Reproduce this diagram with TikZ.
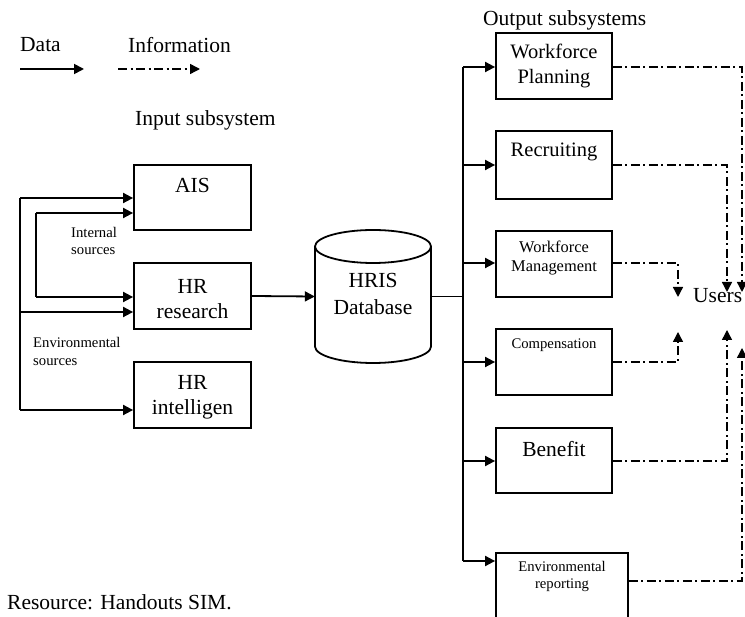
\documentclass[tikz,border=0pt]{standalone}
\usepackage{fontspec}
\setmainfont{Liberation Serif}
\usetikzlibrary{arrows.meta}
\begin{document}
\begin{tikzpicture}[x=1pt,y=-1pt,
  ln/.style={line width=1.8pt},
  arr/.style={ln,-{Triangle[length=10pt,width=10pt]}},
  info/.style={line width=1.4pt,dash pattern=on 9pt off 3.5pt on 2pt off 3.5pt,-{Triangle[length=10pt,width=10pt]}},
  box/.style={draw,ln,inner sep=0pt},
  bigtxt/.style={font=\fontsize{21.5}{24.5}\selectfont,inner sep=0pt,align=center},
  midtxt/.style={font=\fontsize{16.4}{19}\selectfont,inner sep=0pt,align=center},
  smalltxt/.style={font=\fontsize{14.7}{17.5}\selectfont,inner sep=0pt,align=left},
  smallc/.style={font=\fontsize{14.7}{17}\selectfont,inner sep=0pt,align=center}]
\clip (0,0) rectangle (745,617);
\useasboundingbox (0,0) rectangle (745,617);
% legend
\node[bigtxt,anchor=west] (tdata) at (20,45) {Data};
\node[bigtxt,anchor=west] (tinfo) at (128,45) {Information};
\coordinate (d1) at (20,69); \coordinate (d2) at (84,69);
\coordinate (i1) at (118,69); \coordinate (i2) at (200,69);
\draw[arr] (d1) -- (d2);
\draw[info] (i1) -- (i2);
\node[bigtxt,anchor=west] (tin) at (135,120) {Input subsystem};
\node[bigtxt,anchor=west] (tout) at (483,20) {Output subsystems};
\node[bigtxt,anchor=west] (tres) at (7,602) {Resource: Handouts SIM.};
% input boxes
\node[box,minimum width=117pt,minimum height=65pt] (ais) at (192.5,197.5) {};
\node[bigtxt] (taiss) at (192.5,185) {AIS};
\node[box,minimum width=117pt,minimum height=66pt] (hrr) at (192.5,296) {};
\node[bigtxt] (thrr) at (192.5,299) {HR\\research};
\node[box,minimum width=117pt,minimum height=66pt] (hri) at (192.5,395) {};
\node[bigtxt] (thri) at (192.5,397.5) {HR\\intelligen};
% sources
\coordinate (et) at (20,198); \coordinate (em) at (20,312); \coordinate (eb) at (20,410);
\coordinate (it) at (36,213); \coordinate (ib) at (36,297);
\draw[ln] (et) -- (eb);
\draw[arr] (et) -- (et -| ais.west);
\draw[arr] (em) -- (em -| hrr.west);
\draw[arr] (eb) -- (eb -| hri.west);
\draw[ln] (it) -- (ib);
\draw[arr] (it) -- (it -| ais.west);
\draw[arr] (ib) -- (ib -| hrr.west);
\node[smalltxt,anchor=west] (tint) at (71,241) {Internal\\sources};
\node[smalltxt,anchor=west] (tenv) at (33,351.5) {Environmental\\sources};
% database
\node[inner sep=0pt,minimum width=116pt,minimum height=133pt] (db) at (373,296.5) {};
\draw[ln] (373,246.5) ellipse [x radius=58pt, y radius=16.5pt];
\draw[ln] (315,246.5) -- (315,346.5) arc[start angle=180, end angle=360, x radius=58pt, y radius=16.5pt] -- (431,246.5);
\node[bigtxt,font=\fontsize{21.5}{27}\selectfont] (tdb) at (373,293.5) {HRIS\\Database};
\draw[arr] (hrr.east) -- (db.west);
% bus
\coordinate (bt) at (463,67); \coordinate (bb) at (463,561); \coordinate (bm) at (463,296.5);
\draw[ln] (db.east) -- (bm);
\draw[ln] (bt) -- (bb);
% output boxes
\node[box,minimum width=116pt,minimum height=66pt] (wp) at (554,66) {};
\node[bigtxt,font=\fontsize{20.5}{25}\selectfont] (twp) at (554,65.5) {Workforce\\Planning};
\node[box,minimum width=116pt,minimum height=68pt] (rec) at (554,165) {};
\node[bigtxt,font=\fontsize{20.5}{25}\selectfont] (trec) at (554,152) {Recruiting};
\node[box,minimum width=116pt,minimum height=66pt] (wm) at (554,264) {};
\node[midtxt] (twm) at (554,257.5) {Workforce\\Management};
\node[box,minimum width=116pt,minimum height=66pt] (comp) at (554,362) {};
\node[smallc] (tcomp) at (554,345) {Compensation};
\node[box,minimum width=116pt,minimum height=65pt] (ben) at (554,460.5) {};
\node[bigtxt] (tben) at (554,449) {Benefit};
\node[box,minimum width=132pt,minimum height=100pt,anchor=north] (er) at (562,552) {};
\node[smallc] (ter) at (562,576.5) {Environmental\\reporting};
% bus arrows
\foreach \n/\yy in {wp/67,rec/165,wm/263,comp/362,ben/461,er/561}{
  \draw[arr] (463,\yy) -- (\n.west |- 0,\yy);
}
% users
\node[bigtxt,anchor=west] (users) at (693,296) {Users};
\coordinate (c1) at (742,67); \coordinate (c1e) at (742,292);
\coordinate (c2) at (727,165); \coordinate (c2e) at (727,292);
\coordinate (c3) at (678,263); \coordinate (c3e) at (678,297);
\coordinate (c4) at (678,362); \coordinate (c4e) at (678,332);
\coordinate (c5) at (727,461); \coordinate (c5e) at (727,330);
\coordinate (c6) at (742,581); \coordinate (c6e) at (742,348);
\draw[info] (wp.east |- c1) -- (c1) -- (c1e);
\draw[info] (rec.east |- c2) -- (c2) -- (c2e);
\draw[info] (wm.east |- c3) -- (c3) -- (c3e);
\draw[info] (comp.east |- c4) -- (c4) -- (c4e);
\draw[info] (ben.east |- c5) -- (c5) -- (c5e);
\draw[info] (er.east |- c6) -- (c6) -- (c6e);
\end{tikzpicture}
\end{document}
